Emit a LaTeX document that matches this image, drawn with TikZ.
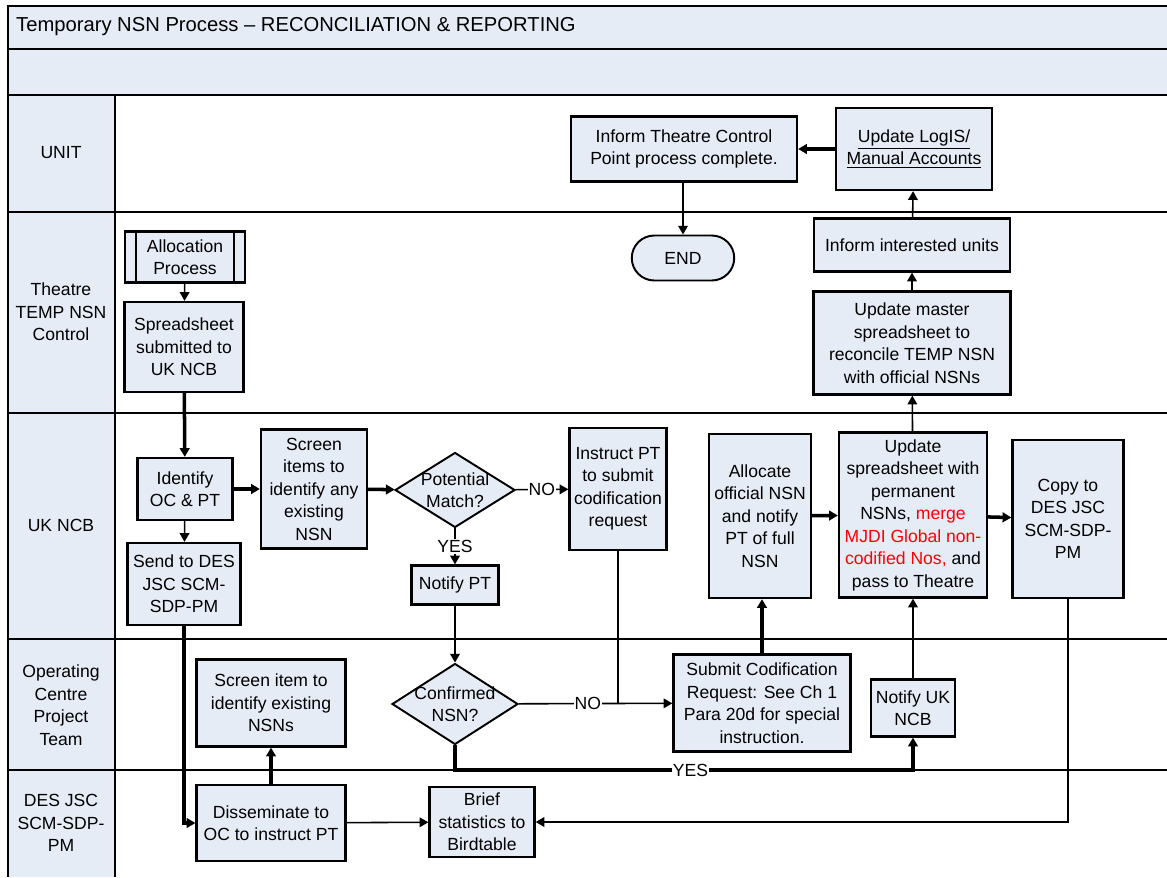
\documentclass[tikz,border=0pt]{standalone}
\usepackage{fontspec}
\setmainfont{Liberation Sans}
\usetikzlibrary{shapes.geometric, shapes.misc, arrows.meta, positioning}
\definecolor{laneblue}{RGB}{230,236,246}
\definecolor{mergered}{RGB}{255,0,0}
\newcommand{\boxfont}{\fontsize{10}{12.8}\selectfont}

\begin{document}
\begin{tikzpicture}[
    x = 0.02cm, y = -0.02cm,
    >= {Triangle[length = 5pt, width = 5.5pt]},
    lane/.style = {line width = 1.1pt},
    box/.style = {
      rectangle, draw, line width = 1.3pt, fill = laneblue, align = center,
      inner sep = 1pt, font = \boxfont
    },
    decision/.style = {diamond, draw, line width = 1.1pt, fill = laneblue, inner sep = 0pt},
    conn/.style = {draw, ->, line width = 0.9pt},
    heavy/.style = {draw, ->, line width = 2pt},
    tag/.style = {fill = white, inner sep = 0.5pt, font = \boxfont},
    lanelabel/.style = {align = center, font = \boxfont}
  ]
      \useasboundingbox (0,0) rectangle (1167,877);

      \fill [laneblue] (8,6) rectangle (1167,95);
      \fill [laneblue] (8,95) rectangle (115,877);
      \draw [lane] (1167,6) -- (8,6) -- (8,877);
      \draw [lane] (8,49) -- (1167,49);
      \foreach \y in {95, 212, 413, 639, 770} {
        \draw [lane] (8,\y) -- (1167,\y);
      }
      \draw [lane] (115,95) -- (115,877);

      \node [anchor = west, font = \fontsize{11.5}{14}\selectfont] (title) at (10,27)
        {Temporary NSN Process – RECONCILIATION \& REPORTING};

      \node [lanelabel] (unitlane) at (61,153) {UNIT};
      \node [lanelabel] (theatrelane) at (61,312) {Theatre\\TEMP NSN\\Control};
      \node [lanelabel] (ncblane) at (61,525) {UK NCB};
      \node [lanelabel] (ocptlane) at (61,705) {Operating\\Centre\\Project\\Team};
      \node [lanelabel] (deslane) at (61,823) {DES JSC\\SCM-SDP-\\PM};

      \node [box, minimum width = 4.52cm, minimum height = 1.3cm] (informtc) at (684,149)
        {Inform Theatre Control\\Point process complete.};
      \node [box, minimum width = 3.12cm, minimum height = 1.64cm] (logis) at (914,149)
        {\underline{Update LogIS/}\\\underline{Manual Accounts}};
      \node [box, rounded rectangle, line width = 1.1pt, minimum width = 2.12cm,
        minimum height = 0.9cm] (endnode) at (683,258) {END};
      \node [box, minimum width = 3.92cm, minimum height = 1.06cm] (units) at (912,245)
        {Inform interested units};
      \node [box, minimum width = 3.94cm, minimum height = 2.06cm] (master) at (912,343)
        {Update master\\spreadsheet to\\reconcile TEMP NSN\\with official NSNs};

      \node [box, minimum width = 2.4cm, minimum height = 1.02cm] (alloc) at (185,257)
        {Allocation\\Process};
      \draw [line width = 1.3pt] ([xshift = 0.24cm] alloc.north west)
        -- ([xshift = 0.24cm] alloc.south west);
      \draw [line width = 1.3pt] ([xshift = -0.24cm] alloc.north east)
        -- ([xshift = -0.24cm] alloc.south east);
      \node [box, minimum width = 2.38cm, minimum height = 1.8cm] (sheet) at (184,347)
        {Spreadsheet\\submitted to\\UK NCB};

      \node [box, minimum width = 1.9cm, minimum height = 1.24cm] (ident) at (185,489)
        {Identify\\OC \& PT};
      \node [box, minimum width = 2.26cm, minimum height = 1.64cm] (send) at (184,584)
        {Send to DES\\JSC SCM-\\SDP-PM};
      \node [box, minimum width = 2.12cm, minimum height = 2.38cm] (screen) at (314,489)
        {Screen\\items to\\identify any\\existing\\NSN};
      \node [decision, minimum width = 2.4cm, minimum height = 1.5cm,
        label = {[lanelabel] center:Potential\\Match?}] (potential) at (455,490) {};
      \node [box, minimum width = 1.94cm, minimum height = 2.44cm] (instr) at (618,489)
        {Instruct PT\\to submit\\codification\\request};
      \node [box, minimum width = 1.74cm, minimum height = 0.78cm] (notifypt) at (455,585)
        {Notify PT};
      \node [box, minimum width = 2.04cm, minimum height = 3.28cm] (allocnsn) at (760,516)
        {Allocate\\official NSN\\and notify\\PT of full\\NSN};
      \node [box, minimum width = 2.96cm, minimum height = 3.3cm] (updsheet) at (913,515)
        {Update\\spreadsheet with\\permanent\\NSNs, \textcolor{mergered}{merge}\\
         \textcolor{mergered}{MJDI Global non-}\\\textcolor{mergered}{codified Nos,} and\\
         pass to Theatre};
      \node [box, minimum width = 2.22cm, minimum height = 3.16cm] (copy) at (1068,519)
        {Copy to\\DES JSC\\SCM-SDP-\\PM};

      \node [box, minimum width = 2.98cm, minimum height = 1.74cm] (scrnitem) at (271,703)
        {Screen item to\\identify existing\\NSNs};
      \node [decision, minimum width = 2.52cm, minimum height = 1.62cm,
        label = {[lanelabel] center:Confirmed\\NSN?}] (confirmed) at (455,704) {};
      \node [box, minimum width = 3.54cm, minimum height = 1.94cm] (submit) at (762,703)
        {Submit Codification\\Request: See Ch 1\\Para 20d for special\\instruction.};
      \node [box, minimum width = 1.68cm, minimum height = 1.14cm] (notifyncb) at (913,708)
        {Notify UK\\NCB};

      \node [box, minimum width = 2.98cm, minimum height = 1.52cm] (dissem) at (271,823)
        {Disseminate to\\OC to instruct PT};
      \node [box, minimum width = 2.1cm, minimum height = 1.4cm] (brief) at (482,822)
        {Brief\\statistics to\\Birdtable};

      \coordinate (yesturn) at (913,770);
      \coordinate (nojoin) at (instr.south |- confirmed.east);

      \draw [conn] (alloc) -- (sheet);
      \draw [heavy] (sheet) -- (ident);
      \draw [conn] (ident) -- (send);
      \draw [heavy] (send.south) |- (dissem.west);
      \draw [heavy] (ident) -- (screen);
      \draw [heavy] (screen) -- (potential);
      \draw [conn] (potential) -- node [tag] {NO} (instr);
      \draw [conn] (potential) -- node [tag] {YES} (notifypt);
      \draw [conn] (notifypt) -- (confirmed);
      \draw [line width = 0.9pt] (instr.south) -- (nojoin);
      \draw [conn] (confirmed) -- node [tag, pos = 0.45] {NO} (submit);
      \draw [heavy, line width = 2.6pt] (confirmed.south) |- node [tag, pos = 0.757] {YES} (yesturn)
        -- (notifyncb.south);
      \draw [conn] (notifyncb) -- (updsheet);
      \draw [heavy] (submit.north) -- (submit.north |- allocnsn.south);
      \draw [heavy] (allocnsn) -- (updsheet);
      \draw [heavy] (updsheet) -- (copy);
      \draw [conn] (updsheet) -- (master);
      \draw [conn] (master) -- (units);
      \draw [conn] (units) -- (logis);
      \draw [heavy] (logis) -- (informtc);
      \draw [conn] (informtc.south -| endnode) -- (endnode);
      \draw [conn] (copy.south) |- (brief.east);
      \draw [conn] (dissem) -- (brief);
      \draw [heavy] (dissem) -- (scrnitem);
\end{tikzpicture}
\end{document}
